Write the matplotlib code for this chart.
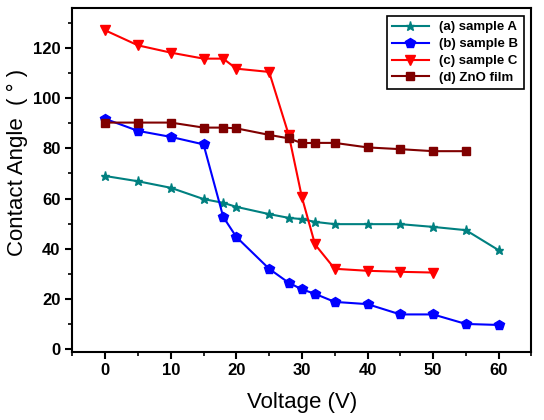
import matplotlib.pyplot as plt
from matplotlib.ticker import MultipleLocator

# 데이터
voltage_a = [0, 5, 10, 15, 18, 20, 25, 28, 30, 32, 35, 40, 45, 50, 55, 60]
angle_a = [69.0, 66.9, 64.3, 59.8, 58.3, 56.7, 53.8, 52.3, 51.8, 50.7, 49.8, 49.8, 49.8, 48.7, 47.4, 39.4]

voltage_b = [0, 5, 10, 15, 18, 20, 25, 28, 30, 32, 35, 40, 45, 50, 55, 60]
angle_b = [91.8, 87.0, 84.6, 81.6, 52.7, 44.7, 32.0, 26.4, 23.8, 22.0, 18.8, 17.9, 13.8, 13.8, 10.0, 9.6]

voltage_c = [0, 5, 10, 15, 18, 20, 25, 28, 30, 32, 35, 40, 45, 50]
angle_c = [127.1, 121.1, 118.2, 115.8, 115.8, 111.8, 110.5, 85.3, 60.5, 41.7, 32.0, 31.2, 30.8, 30.5]

voltage_d = [0, 5, 10, 15, 18, 20, 25, 28, 30, 32, 35, 40, 45, 50, 55]
angle_d = [90.3, 90.3, 90.3, 88.3, 88.3, 88.0, 85.4, 84.0, 82.1, 82.2, 82.2, 80.4, 79.7, 78.9, 78.9]

labels = ["(a) sample A", "(b) sample B", "(c) sample C", "(d) ZnO film"]

plt.rcParams['font.family'] = ['Liberation Sans', 'DejaVu Sans']

fig = plt.figure(figsize=(5.44, 4.2), dpi=100)
ax = fig.add_axes([0.133, 0.163, 0.844, 0.818])

ax.plot(voltage_a, angle_a, color="#008080", marker="*", ms=6.5, lw=1.5, label=labels[0])
ax.plot(voltage_b, angle_b, color="#0000FF", marker="p", ms=7, lw=1.5, label=labels[1])
ax.plot(voltage_c, angle_c, color="#FF0000", marker="v", ms=7, lw=1.5, label=labels[2])
ax.plot(voltage_d, angle_d, color="#800000", marker="s", ms=5.5, lw=1.5, label=labels[3])

ax.set_xlim(-5, 65)
ax.set_ylim(-1, 136)
ax.xaxis.set_major_locator(MultipleLocator(10))
ax.xaxis.set_minor_locator(MultipleLocator(5))
ax.yaxis.set_major_locator(MultipleLocator(20))
ax.yaxis.set_minor_locator(MultipleLocator(10))

ax.tick_params(which="major", direction="out", length=5, width=1.5, labelsize=12)
ax.tick_params(which="minor", direction="out", length=3, width=1.2)
for lab in ax.get_xticklabels() + ax.get_yticklabels():
    lab.set_fontweight("bold")
for sp in ax.spines.values():
    sp.set_linewidth(1.5)

ax.set_xlabel("Voltage (V)", fontsize=16, labelpad=10)
ax.set_ylabel("Contact Angle  ( ° )", fontsize=16)
ax.yaxis.set_label_coords(-0.097, 0.55)

leg = ax.legend(loc="upper right", prop={"weight": "bold", "size": 9.5},
                fancybox=False, edgecolor="black", framealpha=1,
                handlelength=2.8, borderaxespad=0.6, labelspacing=0.35)
leg.get_frame().set_linewidth(1.2)

plt.savefig("out.png", dpi=100)
